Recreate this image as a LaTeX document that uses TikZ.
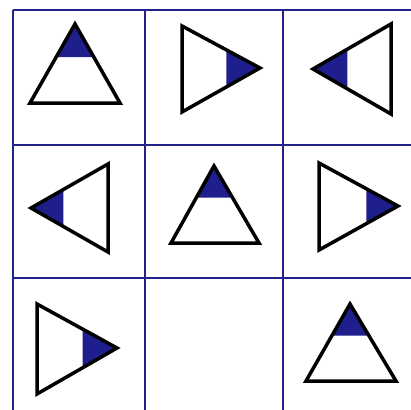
\documentclass[tikz,border=0pt]{standalone}
\usetikzlibrary{calc}
\definecolor{gridblue}{HTML}{22228A}
\definecolor{shadeblue}{HTML}{1E1E8C}
\tikzset{
  gridline/.style={draw=gridblue, line width=2.2pt},
  triline/.style={draw=black, line width=3.5pt, line join=miter},
  shadefill/.style={fill=shadeblue},
}
% apex, corner1, corner2, fraction
\newcommand{\shadedtri}[4]{%
  \fill[shadefill] #1 -- ($#1!#4!#2$) -- ($#1!#4!#3$) -- cycle;
  \draw[triline] #1 -- #2 -- #3 -- cycle;
}
\begin{document}
\begin{tikzpicture}[x=1pt,y=-1pt]
\useasboundingbox (0,0) rectangle (410,410);
\fill[white] (0,0) rectangle (410,410);
% grid
\foreach \x in {13,145,283} \draw[gridline] (\x,10) -- (\x,412);
\foreach \y in {10,145,278} \draw[gridline] (13,\y) -- (412,\y);
% row 1
\shadedtri{(75,24)}{(30,103)}{(120,103)}{0.42}
\shadedtri{(260,68)}{(182,26)}{(182,112)}{0.43}
\shadedtri{(313,69)}{(391,24)}{(391,114)}{0.44}
% row 2
\shadedtri{(31,208)}{(108,164)}{(108,252)}{0.42}
\shadedtri{(214,166)}{(171,243)}{(259,243)}{0.41}
\shadedtri{(398,206)}{(319,163)}{(319,250)}{0.40}
% row 3
\shadedtri{(117,348)}{(37,304)}{(37,394)}{0.43}
\shadedtri{(350,304)}{(306,381)}{(396,381)}{0.41}
\end{tikzpicture}
\end{document}
